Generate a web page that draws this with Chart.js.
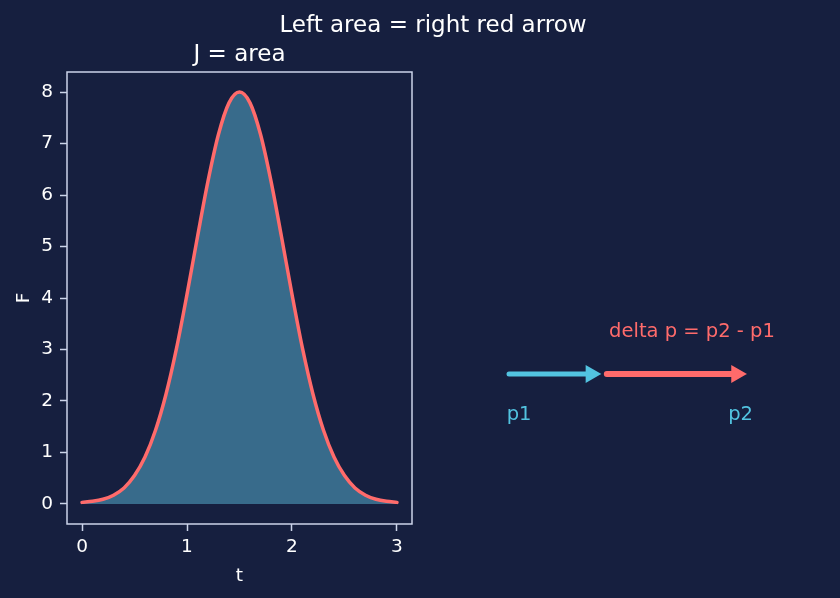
<!DOCTYPE html>
<html>
<head>
<meta charset="utf-8">
<script src="https://cdn.jsdelivr.net/npm/chart.js@4.4.0/dist/chart.umd.min.js"></script>
<style>
  html, body { margin: 0; padding: 0; background: #161f3f; }
  #wrap { position: relative; width: 840px; height: 598px; }
  #wrap canvas { position: absolute; left: 0; top: 0; }
</style>
</head>
<body>
<div id="wrap">
  <canvas id="areaChart" width="840" height="598"></canvas>
  <canvas id="arrowChart" width="840" height="598"></canvas>
</div>
<script>
/* ------------------------------
   DATA
--------------------------------*/

// force curve F(t)
const tValues = [0, 0.1, 0.2, 0.3, 0.4, 0.5, 0.6, 0.7, 0.8, 0.9, 1.0,
                 1.1, 1.2, 1.3, 1.4, 1.5, 1.6, 1.7, 1.8, 1.9, 2.0,
                 2.1, 2.2, 2.3, 2.4, 2.5, 2.6, 2.7, 2.8, 2.9, 3.0];
const fValues = [0.03, 0.05, 0.09, 0.17, 0.31, 0.55, 0.91, 1.43, 2.13, 3.02, 4.07,
                 5.19, 6.27, 7.18, 7.79, 8.00, 7.79, 7.18, 6.27, 5.19, 4.07,
                 3.02, 2.13, 1.43, 0.91, 0.55, 0.31, 0.17, 0.09, 0.05, 0.03];

const xTicks = [0, 1, 2, 3];
const yTicks = [0, 1, 2, 3, 4, 5, 6, 7, 8];

// momentum arrows (right panel)
const arrowY = 0;
const p1Arrow = [0, 1.8];
const deltaArrow = [2.15, 5.0];
const noteTexts = ["p1", "p2", "delta p = p2 - p1"];
const noteX = [-0.05, 5.09, 2.2];
const noteY = [-0.92, -0.92, 0.74];

/* ------------------------------
   STYLE
--------------------------------*/

const FONT = "'DejaVu Sans', sans-serif";
const textColor = "#ffffff";
const spineColor = "#ccd4ea";
const redColor = "#ff6b6b";
const blueColor = "#52c3e0";
const fillColor = "#386b8b";

/* ------------------------------
   LEFT: AREA UNDER F(t)
--------------------------------*/

const framePlugin = {
    id: "frame",
    afterDraw(chart) {
        const ctx = chart.ctx;
        const a = chart.chartArea;
        ctx.save();
        ctx.strokeStyle = spineColor;
        ctx.lineWidth = 1.5;
        ctx.strokeRect(a.left, a.top, a.right - a.left, a.bottom - a.top);

        ctx.fillStyle = textColor;
        ctx.textAlign = "center";
        ctx.textBaseline = "alphabetic";
        ctx.font = "23px " + FONT;
        ctx.fillText("Left area = right red arrow", 433, 32);
        ctx.fillText("J = area", (a.left + a.right) / 2, 61);
        ctx.restore();
    }
};

new Chart(document.getElementById("areaChart"), {
    type: "line",
    data: {
        datasets: [{
            data: tValues.map((t, i) => ({ x: t, y: fValues[i] })),
            borderColor: redColor,
            borderWidth: 3.5,
            borderCapStyle: "round",
            backgroundColor: fillColor,
            fill: "origin",
            pointRadius: 0,
            cubicInterpolationMode: "monotone"
        }]
    },
    options: {
        responsive: false,
        animation: false,
        layout: { padding: { left: 9, top: 72, right: 428, bottom: 7 } },
        plugins: { legend: { display: false }, tooltip: { enabled: false } },
        scales: {
            x: {
                type: "linear",
                min: -0.143,
                max: 3.143,
                afterBuildTicks: s => { s.ticks = xTicks.map(v => ({ value: v })); },
                afterFit: s => { s.height = 67; },
                border: { display: false },
                grid: { drawOnChartArea: false, tickLength: 7, tickColor: spineColor, tickWidth: 1.5 },
                ticks: { color: textColor, font: { family: FONT, size: 18.5 }, padding: 5, maxRotation: 0 },
                title: { display: true, text: "t", color: textColor, font: { family: FONT, size: 18.5 }, padding: { top: 4, bottom: 4 } }
            },
            y: {
                min: -0.39,
                max: 8.39,
                afterBuildTicks: s => { s.ticks = yTicks.map(v => ({ value: v })); },
                afterFit: s => { s.width = 58; },
                border: { display: false },
                grid: { drawOnChartArea: false, tickLength: 7, tickColor: spineColor, tickWidth: 1.5 },
                ticks: { color: textColor, font: { family: FONT, size: 18.5 }, padding: 7 },
                title: { display: true, text: "F", color: textColor, font: { family: FONT, size: 18.5 }, padding: { top: 4, bottom: 4 } }
            }
        }
    },
    plugins: [framePlugin]
});

/* ------------------------------
   RIGHT: MOMENTUM ARROWS
--------------------------------*/

const notePlugin = {
    id: "notes",
    afterDraw(chart) {
        const ctx = chart.ctx;
        const xs = chart.scales.x, ys = chart.scales.y;
        ctx.save();
        ctx.font = "19.5px " + FONT;
        ctx.textBaseline = "alphabetic";
        noteTexts.forEach((txt, i) => {
            ctx.fillStyle = i === 2 ? redColor : blueColor;
            ctx.textAlign = i === 1 ? "center" : "left";
            ctx.fillText(txt, xs.getPixelForValue(noteX[i]), ys.getPixelForValue(noteY[i]));
        });
        ctx.restore();
    }
};

function arrowSet(xPair, color, width) {
    return {
        data: xPair.map(x => ({ x: x, y: arrowY })),
        borderColor: color,
        borderWidth: width,
        borderCapStyle: "round",
        backgroundColor: color,
        pointBackgroundColor: color,
        pointBorderColor: color,
        pointBorderWidth: 2,
        pointStyle: "triangle",
        rotation: 90,
        pointRadius: [0, 8.5],
        clip: false,
        fill: false
    };
}

new Chart(document.getElementById("arrowChart"), {
    type: "line",
    data: {
        datasets: [
            arrowSet(p1Arrow, blueColor, 5),
            arrowSet(deltaArrow, redColor, 6)
        ]
    },
    options: {
        responsive: false,
        animation: false,
        layout: { padding: { left: 509, top: 324, right: 103.5, bottom: 174 } },
        plugins: { legend: { display: false }, tooltip: { enabled: false } },
        scales: {
            x: { type: "linear", min: 0, max: 5, display: false },
            y: { min: -1, max: 1, display: false }
        }
    },
    plugins: [notePlugin]
});
</script>
</body>
</html>
